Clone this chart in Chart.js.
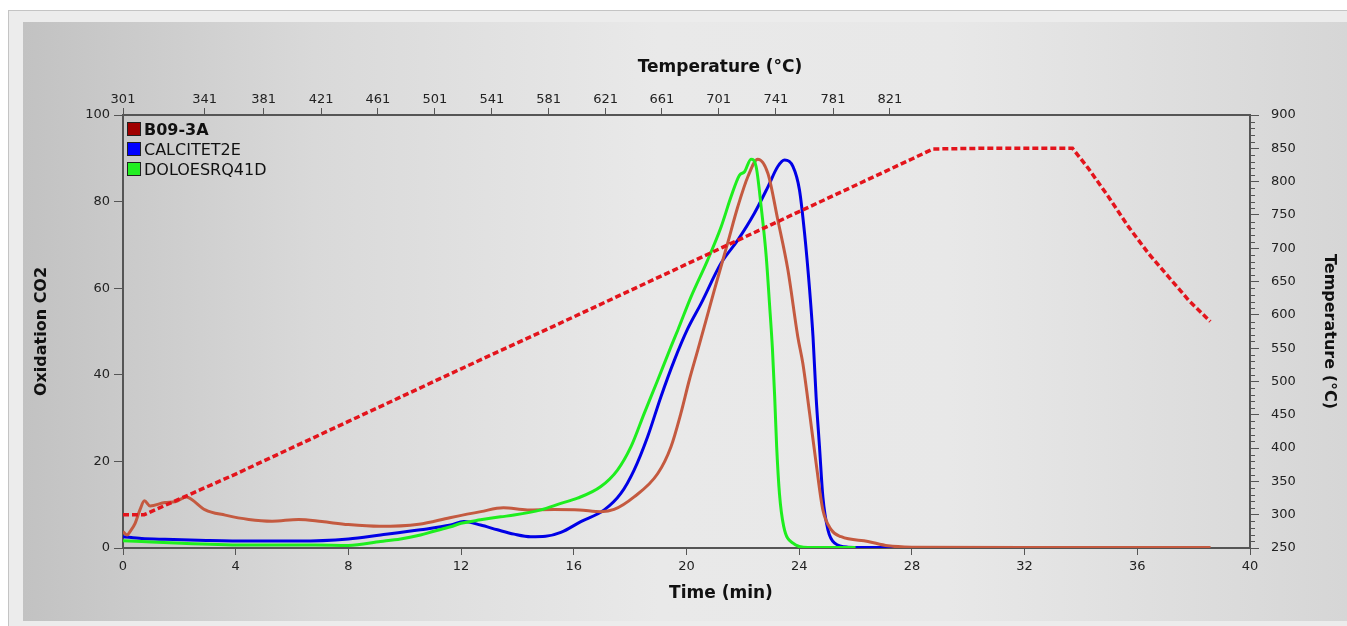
<!DOCTYPE html>
<html>
<head>
<meta charset="utf-8">
<script src="https://cdn.jsdelivr.net/npm/chart.js@4.4.0/dist/chart.umd.min.js"></script>
<style>
body { margin:0; background:#fff; width:1347px; height:626px; overflow:hidden; position:relative; font-family:"DejaVu Sans", sans-serif; }
#frame { position:absolute; left:8px; top:10px; width:1339px; height:616px; background:#ececec; border-left:1px solid #c4c4c4; border-top:1px solid #c4c4c4; }
#panel { position:absolute; left:23px; top:22px; width:1324px; height:599px;
  background: linear-gradient(to right, #c2c2c2 0%, #d9d9d9 22%, #e9e9e9 48%, #e8e8e8 70%, #d6d6d6 100%); }
#chart { position:absolute; left:0; top:0; }
#legend { position:absolute; left:127px; top:119px; font-size:16px; color:#111; }
.item { height:20px; display:flex; align-items:center; }
.box { width:12px; height:12px; border:1px solid #222; margin-right:3px; }
</style>
</head>
<body>
<div id="frame"></div>
<div id="panel"></div>
<canvas id="chart" width="1347" height="626"></canvas>
<div id="legend">
  <div class="item"><span class="box" style="background:#a00000"></span><b>B09-3A</b></div>
  <div class="item"><span class="box" style="background:#0000ff"></span>CALCITET2E</div>
  <div class="item"><span class="box" style="background:#22ee22"></span>DOLOESRQ41D</div>
</div>
<script>
// top axis: furnace temperature read at given times
const tempTickLabels = [301, 341, 381, 421, 461, 501, 541, 581, 621, 661, 701, 741, 781, 821];
const tempTickTimes  = [0, 2.90, 4.99, 7.03, 9.05, 11.07, 13.09, 15.11, 17.13, 19.13, 21.14, 23.17, 25.20, 27.22];

// temperature profile (right axis)
const tempTime = [0, 0.75, 4, 8, 12, 16, 20, 24, 28, 28.75,
                  30.5, 33.7, 34.26, 34.98, 35.69, 36.4, 37.11, 37.82, 38.59];
const tempVal  = [300, 300, 361, 440, 519, 597, 676, 755, 834, 849,
                  850, 850, 820, 777, 732, 692, 657, 622, 590];

// B09-3A
const b09Time = [0, 0.15, 0.25, 0.43, 0.6, 0.76, 0.96, 1.49, 1.85, 2.26,
                 2.44, 2.92, 3.63, 4.46, 5.29, 6.23, 7.06, 8.0, 9.1, 10.5,
                 11.6, 12.7, 13.5, 14.35, 15.3, 16.2, 16.96, 17.43, 18.14, 18.98,
                 19.45, 19.8, 20.1, 20.4, 20.69, 20.99, 21.46, 21.82, 22.18, 22.53,
                 22.89, 23.24, 23.6, 23.95, 24.13, 24.37, 24.6, 24.84, 25.14, 25.49,
                 26.44, 27.15, 28, 32, 36, 38.6];
const b09Co2  = [3.8, 3.0, 3.8, 5.7, 8.8, 10.9, 9.7, 10.5, 10.7, 11.8,
                 11.2, 8.8, 7.6, 6.6, 6.2, 6.6, 6.1, 5.4, 5.0, 5.5,
                 7.0, 8.4, 9.3, 8.8, 8.9, 8.8, 8.4, 8.9, 11.8, 17.2,
                 23.4, 31.1, 38.8, 45.7, 52.5, 59.6, 70.4, 78.8, 85.8, 89.8,
                 86.5, 75.8, 64.2, 48.8, 42.6, 31.1, 19.6, 8.8, 4.2, 2.6,
                 1.5, 0.5, 0.2, 0.1, 0.1, 0.1];

// CALCITET2E
const calTime = [0, 0.66, 1.49, 2.68, 4.46, 6.23, 8.0, 9.14, 10.56, 11.63,
                 12.1, 12.69, 13.29, 13.88, 14.47, 15.0, 15.54, 16.25, 17.08, 17.67,
                 18.14, 18.62, 19.09, 19.57, 20.04, 20.52, 21.23, 21.82, 22.41, 22.89,
                 23.24, 23.48, 23.78, 24.01, 24.19, 24.37, 24.49, 24.6, 24.72, 24.84,
                 25.02, 25.26, 25.73, 27, 30, 33, 36.2];
const calCo2  = [2.6, 2.2, 2.0, 1.8, 1.6, 1.6, 2.1, 3.0, 4.2, 5.3,
                 6.1, 5.3, 4.2, 3.2, 2.6, 2.7, 3.6, 6.1, 8.8, 12.6,
                 18.0, 25.7, 34.9, 43.4, 50.6, 56.5, 65.8, 71.1, 77.3, 83.4,
                 88.1, 89.6, 88.1, 82.7, 72.7, 59.6, 48.8, 34.9, 23.4, 11.8,
                 4.2, 1.1, 0.2, 0.1, 0.1, 0.1, 0.1];

// DOLOESRQ41D
const dolTime = [0, 0.66, 2.09, 4.46, 6.83, 8.0, 9.14, 9.85, 10.56, 11.0,
                 11.63, 12.0, 12.69, 13.4, 13.88, 14.83, 15.54, 16.13, 16.96, 17.55,
                 18.03, 18.5, 18.98, 19.45, 19.69, 20.16, 20.75, 21.23, 21.58, 21.88,
                 22.06, 22.29, 22.47, 22.65, 22.83, 22.95, 23.05, 23.13, 23.2, 23.3,
                 23.45, 23.78, 24.31, 26];
const dolCo2  = [1.7, 1.5, 1.1, 0.7, 0.7, 0.6, 1.5, 2.1, 3.0, 3.8,
                 4.9, 5.7, 6.5, 7.2, 7.6, 8.8, 10.3, 11.5, 14.2, 18.0,
                 23.4, 31.1, 38.8, 46.5, 50.3, 58.0, 66.5, 74.2, 81.1, 86.1,
                 86.9, 89.8, 88.1, 78.8, 67.3, 56.0, 46.0, 34.9, 23.4, 12.5,
                 5.0, 1.1, 0.1, 0.1];

function pts(xs, ys) {
    return xs.map((x, i) => ({x: x, y: ys[i]}));
}

// minor ticks on the right axis + the horizontal axis titles
const extras = {
    id: 'extras',
    afterDraw(chart) {
        const ctx = chart.ctx;
        const y2 = chart.scales.y2;
        ctx.save();
        ctx.strokeStyle = '#555';
        ctx.lineWidth = 1;
        for (let v = 260; v < 900; v += 10) {
            if (v % 50 === 0) continue;
            const py = Math.round(y2.getPixelForValue(v)) + 0.5;
            ctx.beginPath();
            ctx.moveTo(y2.left, py);
            ctx.lineTo(y2.left + 5, py);
            ctx.stroke();
        }
        ctx.fillStyle = '#111';
        ctx.font = 'bold 17px "DejaVu Sans"';
        ctx.textAlign = 'center';
        ctx.textBaseline = 'middle';
        ctx.fillText('Temperature (°C)', 720, 68);
        ctx.fillText('Time (min)', 721, 594);
        ctx.restore();
    }
};

const tickFont = {family: '"DejaVu Sans"', size: 13};
const titleFont = {family: '"DejaVu Sans"', size: 16, weight: 'bold'};
const axisBorder = {display: true, color: '#555', width: 2};

var ctx = document.getElementById('chart');
var myChart = new Chart(ctx, {
    type: 'line',
    data: {
        datasets: [
            {
                label: 'Temperature',
                data: pts(tempTime, tempVal),
                yAxisID: 'y2',
                borderColor: '#e3141c',
                borderWidth: 3.5,
                borderDash: [6, 3],
                pointRadius: 0,
                tension: 0
            },
            {
                label: 'DOLOESRQ41D',
                data: pts(dolTime, dolCo2),
                yAxisID: 'y',
                borderColor: '#1eee1e',
                borderWidth: 3,
                pointRadius: 0,
                cubicInterpolationMode: 'monotone'
            },
            {
                label: 'B09-3A',
                data: pts(b09Time, b09Co2),
                yAxisID: 'y',
                borderColor: '#c45a40',
                borderWidth: 3,
                pointRadius: 0,
                cubicInterpolationMode: 'monotone'
            },
            {
                label: 'CALCITET2E',
                data: pts(calTime, calCo2),
                yAxisID: 'y',
                borderColor: '#0000e6',
                borderWidth: 3,
                pointRadius: 0,
                cubicInterpolationMode: 'monotone'
            }
        ]
    },
    options: {
        responsive: false,
        animation: false,
        layout: {padding: 0},
        plugins: {legend: {display: false}, tooltip: {enabled: false}},
        scales: {
            x: {
                type: 'linear', position: 'bottom', min: 0, max: 40,
                ticks: {stepSize: 4, font: tickFont, color: '#222', padding: 4},
                grid: {drawOnChartArea: false, tickLength: 7, tickColor: '#555'},
                border: axisBorder,
                afterFit: (s) => { s.height = 78; }
            },
            x2: {
                type: 'linear', position: 'top', min: 0, max: 40,
                afterBuildTicks: (s) => { s.ticks = tempTickTimes.map(v => ({value: v})); },
                ticks: {autoSkip: false, font: tickFont, color: '#222', padding: 1,
                        callback: (v, i) => tempTickLabels[i]},
                grid: {drawOnChartArea: false, tickLength: 7, tickColor: '#555'},
                border: axisBorder,
                afterFit: (s) => { s.height = 115; }
            },
            y: {
                type: 'linear', position: 'left', min: 0, max: 100,
                ticks: {stepSize: 20, font: tickFont, color: '#222', padding: 4},
                grid: {drawOnChartArea: false, tickLength: 9, tickColor: '#555'},
                border: axisBorder,
                title: {display: true, text: 'Oxidation CO2', font: titleFont, color: '#111', padding: {top: 32}},
                afterFit: (s) => { s.width = 123; }
            },
            y2: {
                type: 'linear', position: 'right', min: 250, max: 900,
                ticks: {stepSize: 50, font: tickFont, color: '#222', padding: 12},
                grid: {drawOnChartArea: false, tickLength: 9, tickColor: '#555'},
                border: axisBorder,
                title: {display: true, text: 'Temperature (°C)', font: titleFont, color: '#111', padding: {top: 8}},
                afterFit: (s) => { s.width = 97; }
            }
        }
    },
    plugins: [extras]
});
</script>
</body>
</html>
